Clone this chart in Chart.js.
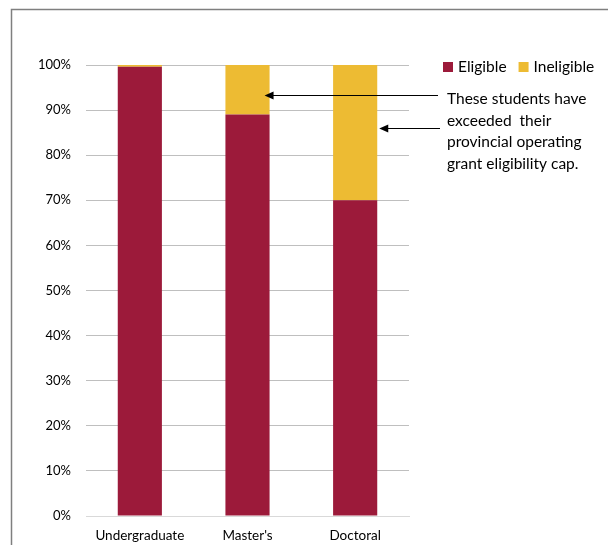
<!DOCTYPE html>
<html>
<head>
<meta charset="utf-8">
<script src="https://cdn.jsdelivr.net/npm/chart.js@4/dist/chart.umd.min.js"></script>
<style>
  body { margin: 0; background: #fff; }
  canvas { display: block; }
</style>
</head>
<body>
<canvas id="myChart" width="608" height="545"></canvas>
<script>
const programs = ['Undergraduate', "Master's", 'Doctoral'];
const eligible = [99.6, 89, 70];
const ineligible = [0.4, 11, 30];
const yTicks = [0, 10, 20, 30, 40, 50, 60, 70, 80, 90, 100];
const noteLines = ['These students have', 'exceeded  their', 'provincial operating', 'grant eligibility cap.'];
// arrow heights (percent) pointing at the Master's and Doctoral ineligible shares
const arrowLevels = [93.3, 86.1];

const FONT = 'Lato, "Open Sans", sans-serif';
const ctx = document.getElementById('myChart').getContext('2d');

// outer frame, only left and top edges show
const framePlugin = {
    id: 'frame',
    beforeDraw(chart) {
        const c = chart.ctx;
        c.save();
        c.strokeStyle = '#7f7f7f';
        c.lineWidth = 1.5;
        c.beginPath();
        c.moveTo(11.5, 545);
        c.lineTo(11.5, 9.5);
        c.lineTo(608, 9.5);
        c.stroke();
        c.restore();
    }
};

// legend row and the note with its arrows
const notePlugin = {
    id: 'note',
    afterDraw(chart) {
        const c = chart.ctx;
        const y = chart.scales.y;
        c.save();

        // legend
        c.font = '15.5px ' + FONT;
        c.textBaseline = 'middle';
        c.fillStyle = '#000';
        let x = 443;
        chart.data.datasets.forEach(ds => {
            c.fillStyle = ds.backgroundColor;
            c.fillRect(x, 62, 10, 10);
            c.fillStyle = '#000';
            c.fillText(ds.label, x + 15, 67);
            x += 15 + c.measureText(ds.label).width + 12;
        });

        // note text
        noteLines.forEach((line, i) => {
            c.fillText(line, 447, 99 + i * 21.5);
        });

        // arrows to the Master's and Doctoral bars
        const bars = chart.getDatasetMeta(1).data;
        const tips = [bars[1].x + bars[1].width / 2 - 5, bars[2].x + bars[2].width / 2 + 2];
        const starts = [438, 440];
        c.strokeStyle = '#000';
        c.fillStyle = '#000';
        c.lineWidth = 1.2;
        arrowLevels.forEach((lvl, i) => {
            const ay = Math.round(y.getPixelForValue(lvl)) + 0.5;
            const tip = tips[i];
            c.beginPath();
            c.moveTo(starts[i], ay);
            c.lineTo(tip + 7, ay);
            c.stroke();
            c.beginPath();
            c.moveTo(tip, ay);
            c.lineTo(tip + 9, ay - 4);
            c.lineTo(tip + 9, ay + 4);
            c.closePath();
            c.fill();
        });
        c.restore();
    }
};

new Chart(ctx, {
    type: 'bar',
    data: {
        labels: programs,
        datasets: [
            {
                label: 'Eligible',
                data: eligible,
                backgroundColor: '#9c1a3a',
                barPercentage: 0.41,
                categoryPercentage: 1
            },
            {
                label: 'Ineligible',
                data: ineligible,
                backgroundColor: '#edbb33',
                barPercentage: 0.41,
                categoryPercentage: 1
            }
        ]
    },
    options: {
        responsive: false,
        animation: false,
        layout: { padding: { top: 65, right: 199, bottom: 0, left: 0 } },
        plugins: {
            legend: { display: false },
            tooltip: { enabled: false }
        },
        scales: {
            x: {
                stacked: true,
                grid: { display: false, drawTicks: false },
                border: { color: '#d9d9d9', width: 1 },
                ticks: {
                    color: '#000',
                    font: { family: FONT, size: 13.5 },
                    padding: 12,
                    maxRotation: 0
                },
                afterFit(scale) { scale.height = 29; }
            },
            y: {
                stacked: true,
                min: 0,
                max: 100,
                afterBuildTicks(scale) {
                    scale.ticks = yTicks.map(v => ({ value: v }));
                },
                grid: { color: '#bfbfbf', lineWidth: 1, drawTicks: false },
                border: { display: false },
                ticks: {
                    color: '#000',
                    font: { family: FONT, size: 13 },
                    padding: 15,
                    callback: v => v + '%'
                },
                afterFit(scale) { scale.width = 86; }
            }
        }
    },
    plugins: [framePlugin, notePlugin]
});
</script>
</body>
</html>
